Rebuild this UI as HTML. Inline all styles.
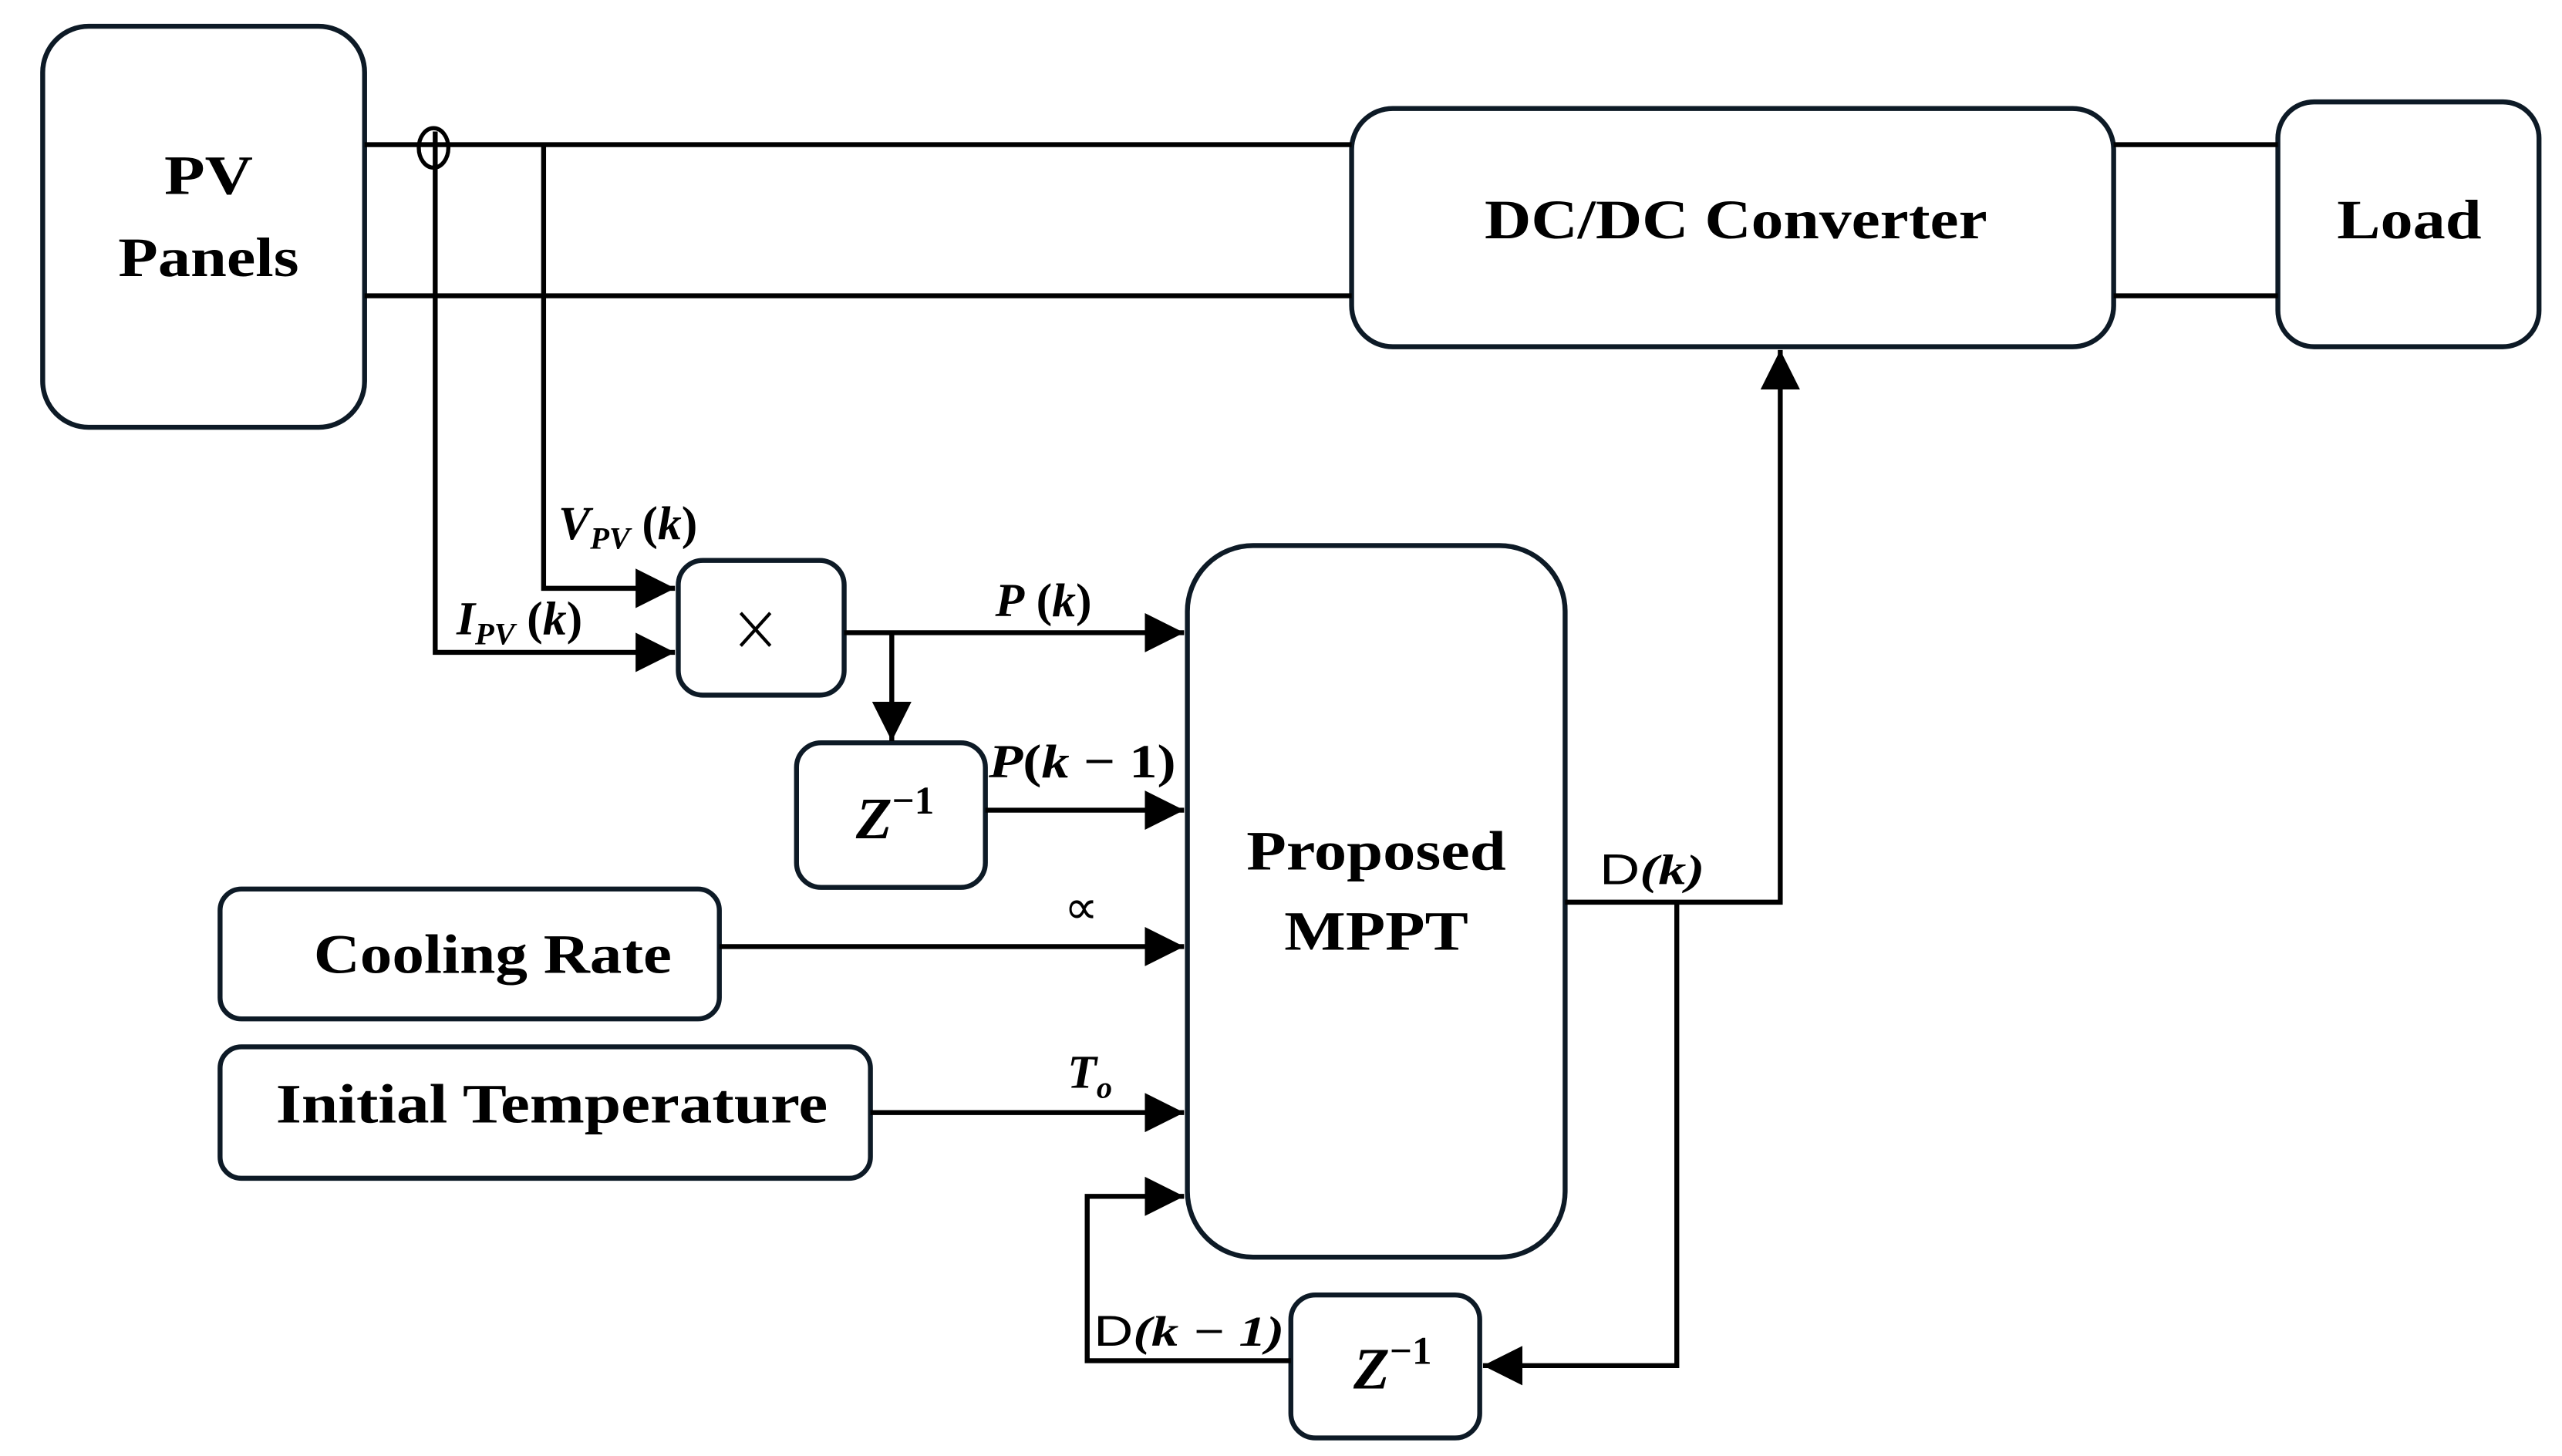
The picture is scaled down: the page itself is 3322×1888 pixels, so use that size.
<!DOCTYPE html>
<html><head><style>html,body{margin:0;padding:0;background:#fff;}svg{display:block}</style></head>
<body>
<svg width="3322" height="1888" viewBox="0 0 1560 886" preserveAspectRatio="none" xmlns="http://www.w3.org/2000/svg">
<defs>
<marker id="a" viewBox="0 0 10 10" refX="10" refY="5" markerWidth="24" markerHeight="26" markerUnits="userSpaceOnUse" orient="auto"><path d="M0,0 L10,5 L0,10 z" fill="#000"/></marker>
</defs>
<g fill="none" stroke="#0d1a26" stroke-width="3">
<rect x="26" y="16" width="196" height="244" rx="28"/>
<rect x="823" y="66" width="464" height="145" rx="25"/>
<rect x="1387" y="62" width="159" height="149" rx="22"/>
<rect x="413" y="341" width="101" height="82" rx="15"/>
<rect x="485" y="452" width="115" height="88" rx="15"/>
<rect x="723" y="332" width="230" height="433" rx="40"/>
<rect x="134" y="541" width="304" height="79" rx="13"/>
<rect x="134" y="637" width="396" height="80" rx="13"/>
<rect x="786" y="788" width="115" height="87" rx="15"/>
</g>
<g fill="none" stroke="#000" stroke-width="3">
<line x1="222" y1="88" x2="823" y2="88"/>
<line x1="222" y1="180" x2="823" y2="180"/>
<line x1="1287" y1="88" x2="1387" y2="88"/>
<line x1="1287" y1="180" x2="1387" y2="180"/>
<ellipse cx="264" cy="90" rx="9" ry="12" stroke-width="2.5"/>
<polyline points="265,80 265,397 411,397" marker-end="url(#a)"/>
<polyline points="331,88 331,358 411,358" marker-end="url(#a)"/>
<line x1="514" y1="385" x2="721" y2="385" marker-end="url(#a)"/>
<line x1="543" y1="385" x2="543" y2="451" marker-end="url(#a)"/>
<line x1="600" y1="493" x2="721" y2="493" marker-end="url(#a)"/>
<line x1="438" y1="576" x2="721" y2="576" marker-end="url(#a)"/>
<line x1="530" y1="677" x2="721" y2="677" marker-end="url(#a)"/>
<polyline points="786,828 662,828 662,728 721,728" marker-end="url(#a)"/>
<polyline points="953,549 1084,549 1084,213" marker-end="url(#a)"/>
<polyline points="1021,549 1021,831 903,831" marker-end="url(#a)"/>
<line x1="451" y1="373" x2="469" y2="393" stroke-width="2"/>
<line x1="469" y1="373" x2="451" y2="393" stroke-width="2"/>
</g>
<g font-family="Liberation Serif, serif" font-weight="bold" text-anchor="middle" fill="#000">
<text x="127" y="118" font-size="34" textLength="54" lengthAdjust="spacingAndGlyphs">PV</text>
<text x="127" y="168" font-size="34" textLength="110" lengthAdjust="spacingAndGlyphs">Panels</text>
<text x="1057" y="145" font-size="34" textLength="306" lengthAdjust="spacingAndGlyphs">DC/DC Converter</text>
<text x="1467" y="145" font-size="34" textLength="88" lengthAdjust="spacingAndGlyphs">Load</text>
<text x="838" y="529" font-size="34" textLength="158" lengthAdjust="spacingAndGlyphs">Proposed</text>
<text x="838" y="578" font-size="34" textLength="112" lengthAdjust="spacingAndGlyphs">MPPT</text>
<text x="300" y="592" font-size="34" textLength="218" lengthAdjust="spacingAndGlyphs">Cooling Rate</text>
<text x="336" y="683" font-size="34" textLength="336" lengthAdjust="spacingAndGlyphs">Initial Temperature</text>
<text x="545" y="510" font-size="36" font-style="italic">Z<tspan font-style="normal" font-size="24" dy="-15">−1</tspan></text>
<text x="848" y="845" font-size="36" font-style="italic">Z<tspan font-style="normal" font-size="24" dy="-15">−1</tspan></text>
</g>
<g font-family="Liberation Serif, serif" font-weight="bold" font-style="italic" fill="#000" font-size="29">
<text x="340" y="328">V<tspan font-size="19" dy="6">PV</tspan><tspan dy="-6" font-style="normal"> (</tspan>k<tspan font-style="normal">)</tspan></text>
<text x="278" y="386">I<tspan font-size="19" dy="6">PV</tspan><tspan dy="-6" font-style="normal"> (</tspan>k<tspan font-style="normal">)</tspan></text>
<text x="606" y="375">P<tspan font-style="normal"> (</tspan>k<tspan font-style="normal">)</tspan></text>
<text x="602" y="473" textLength="114" lengthAdjust="spacingAndGlyphs">P<tspan font-style="normal">(</tspan>k<tspan font-style="normal"> − 1)</tspan></text>
<text x="648" y="562" font-style="normal" font-weight="normal">∝</text>
<text x="650" y="662">T<tspan font-size="19" dy="6">o</tspan></text>
</g>
<g font-family="Liberation Sans, sans-serif" fill="#000" font-size="26">
<text x="974" y="538" textLength="64" lengthAdjust="spacingAndGlyphs">D<tspan font-family="Liberation Serif, serif" font-style="italic" font-weight="bold">(k)</tspan></text>
<text x="666" y="819" textLength="116" lengthAdjust="spacingAndGlyphs">D<tspan font-family="Liberation Serif, serif" font-style="italic" font-weight="bold">(k − 1)</tspan></text>
</g>
</svg>
</body></html>
